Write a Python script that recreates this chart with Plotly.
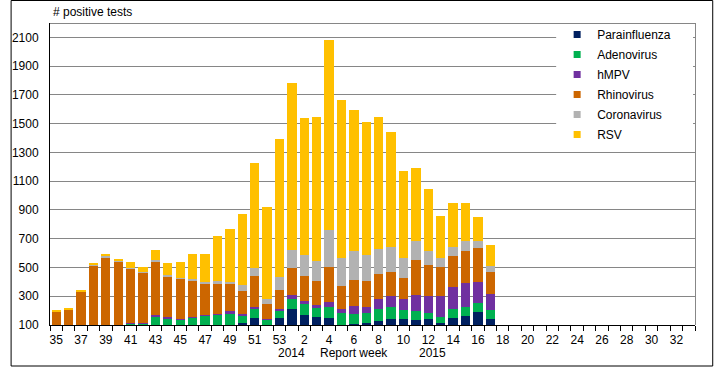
import plotly.graph_objects as go

# Report weeks: 2014 weeks 35-53, then 2015 weeks 1-33
weeks = [str(w) for w in range(35, 54)] + [str(w) for w in range(1, 34)]
tick_labels = ["35", "37", "39", "41", "43", "45", "47", "49", "51", "53",
               "2", "4", "6", "8", "10", "12", "14", "16", "18", "20",
               "22", "24", "26", "28", "30", "32"]

# weekly positive tests (weeks 35..53, 1..17); later weeks have no data
parainfluenza = [10, 10, 10, 10, 10, 15, 20, 20, 30, 30, 30, 30, 40, 40, 50, 116, 146, 90, 151,
                 213, 171, 157, 151, 90, 109, 116, 130, 144, 144, 137, 144, 116, 151, 164, 192, 144]
adenovirus = [30, 30, 35, 40, 45, 60, 91, 89, 128, 114, 109, 123, 127, 131, 130, 48, 62, 49, 48,
              69, 76, 63, 75, 95, 69, 69, 83, 82, 62, 62, 41, 42, 62, 62, 62, 62]
hmpv = [5, 5, 5, 5, 5, 5, 2, 5, 9, 9, 5, 2, 2, 7, 14, 14, 14, 5, 14,
        27, 21, 20, 35, 28, 55, 41, 69, 76, 76, 110, 117, 144, 151, 166, 145, 110]
rhinovirus = [147, 161, 280, 461, 511, 459, 383, 354, 377, 287, 276, 251, 223, 207, 191, 159, 218, 103, 131,
              187, 172, 166, 241, 158, 180, 180, 172, 166, 145, 242, 214, 200, 214, 221, 235, 152]
coronavirus = [1, 1, 2, 8, 7, 5, 2, 2, 9, 7, 9, 14, 7, 21, 14, 41, 58, 35, 89,
               124, 145, 138, 256, 194, 200, 179, 173, 172, 138, 131, 97, 63, 63, 69, 48, 41]
rsv = [6, 8, 5, 6, 14, 14, 39, 32, 67, 83, 108, 172, 193, 310, 366, 497, 729, 641, 960,
       1166, 952, 1000, 1322, 1097, 980, 925, 917, 801, 607, 511, 435, 296, 310, 269, 172, 145]

series = [
    ("Parainfluenza", parainfluenza, "#002060"),
    ("Adenovirus", adenovirus, "#00B050"),
    ("hMPV", hmpv, "#7030A0"),
    ("Rhinovirus", rhinovirus, "#CC6600"),
    ("Coronavirus", coronavirus, "#B2B2B2"),
    ("RSV", rsv, "#FFC000"),
]

y_ticks = list(range(100, 2101, 200))
y_max = 2200

FONT = "Arial, Liberation Sans, sans-serif"
W, H = 714, 367
L, R, T, B = 40, 19, 23, 42
pw, ph = W - L - R, H - T - B

xpos = list(range(len(weeks)))
fig = go.Figure()
for name, vals, col in series:
    padded = vals + [None] * (len(weeks) - len(vals))
    fig.add_trace(go.Bar(x=xpos, y=padded, name=name, marker_color=col,
                         marker_line_width=0, showlegend=False, hoverinfo="skip"))
for name, vals, col in series:
    fig.add_trace(go.Scatter(x=[None], y=[None], mode="markers", name=name,
                             legendgroup=name,
                             marker=dict(symbol="square", size=7, color=col)))

tickvals = [weeks.index(t) for t in tick_labels]

def px_x(p):
    return (p - L) / pw

def px_y(p):
    return (H - B - p) / ph

GRAY = "#868686"
fig.update_layout(
    width=W, height=H,
    margin=dict(l=L, r=R, t=T, b=B),
    paper_bgcolor="white", plot_bgcolor="white",
    barmode="stack", bargap=0.25,
    font=dict(family=FONT, size=12, color="black"),
    showlegend=True,
    legend=dict(x=px_x(555), y=px_y(20), xanchor="left", yanchor="top",
                bgcolor="rgba(0,0,0,0)", borderwidth=0, traceorder="grouped",
                font=dict(family=FONT, size=12, color="black"),
                itemwidth=30, tracegroupgap=1),
    xaxis=dict(range=[-0.5, len(weeks) - 0.5], tickmode="array", tickvals=tickvals,
               ticktext=tick_labels, ticks="", showgrid=False, zeroline=False,
               showline=True, linecolor="black", linewidth=1, ticklabelstandoff=4,
               minor=dict(ticks="outside", tick0=-0.5, dtick=1, ticklen=5,
                          tickcolor="black", showgrid=False),
               tickfont=dict(family=FONT, size=12, color="black")),
    yaxis=dict(range=[100, y_max], tickmode="array",
               tickvals=y_ticks,
               showgrid=True, gridcolor=GRAY, gridwidth=1, zeroline=False,
               showline=True, linecolor="black", linewidth=1,
               ticks="outside", ticklen=8, tickcolor="rgba(0,0,0,0)",
               tickfont=dict(family=FONT, size=12, color="black")),
    shapes=[
        dict(type="rect", xref="paper", yref="paper", layer="above",
             x0=px_x(554), x1=px_x(693), y0=px_y(151), y1=px_y(25),
             fillcolor="white", line=dict(width=0)),
        # plot-area frame (top and right), drawn as thin filled strips
        dict(type="rect", xref="paper", yref="paper", layer="above",
             x0=px_x(40), x1=px_x(696), y0=px_y(24), y1=px_y(23),
             fillcolor=GRAY, line=dict(width=0)),
        dict(type="rect", xref="paper", yref="paper", layer="above",
             x0=px_x(695), x1=px_x(696), y0=px_y(325), y1=px_y(23),
             fillcolor=GRAY, line=dict(width=0)),
        dict(type="rect", xref="paper", yref="paper",
             x0=px_x(0.5), x1=px_x(713), y0=px_y(366), y1=px_y(0.5),
             line=dict(color="black", width=1)),
    ],
    annotations=[
        dict(text="# positive tests", xref="paper", yref="paper", x=px_x(41), y=px_y(12),
             xanchor="left", yanchor="middle", showarrow=False),
        dict(text="2014", xref="paper", yref="paper", x=px_x(285), y=px_y(353),
             xanchor="center", yanchor="middle", showarrow=False),
        dict(text="Report week", xref="paper", yref="paper", x=px_x(349), y=px_y(353),
             xanchor="center", yanchor="middle", showarrow=False),
        dict(text="2015", xref="paper", yref="paper", x=px_x(428), y=px_y(353),
             xanchor="center", yanchor="middle", showarrow=False),
    ],
)

fig.write_html("out.html", config={"displayModeBar": False},
               post_script="document.body.style.margin='0px';")
